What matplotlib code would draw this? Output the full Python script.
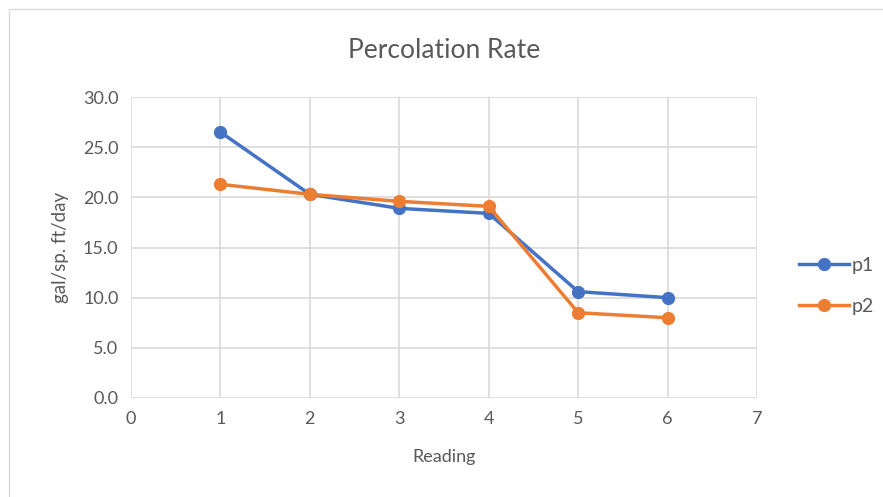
import matplotlib.pyplot as plt
from matplotlib.patches import Rectangle
import numpy as np

plt.rcParams['font.family'] = ['Lato', 'DejaVu Sans']

# Readings and percolation rates
readings = [1, 2, 3, 4, 5, 6]
p1 = [26.5, 20.3, 18.9, 18.4, 10.6, 10.0]
p2 = [21.3, 20.3, 19.6, 19.1, 8.5, 8.0]

text_color = '#595959'
grid_color = '#d9d9d9'

fig = plt.figure(figsize=(8.83, 4.97), dpi=100)
fig.patches.append(Rectangle((9 / 883, -0.1), 1.2, 1 - 9 / 497 + 0.1, transform=fig.transFigure,
                             fill=False, edgecolor='#d9d9d9', linewidth=1))

ax = fig.add_axes([131 / 883, 1 - 398 / 497, (757 - 131) / 883, (398 - 97) / 497])

ax.plot(readings, p1, color='#4472c4', linewidth=2.5, marker='o', markersize=8.5, label='p1')
ax.plot(readings, p2, color='#ed7d31', linewidth=2.5, marker='o', markersize=8.5, label='p2')

ax.set_xlim(0, 7)
ax.set_ylim(0, 30)
ax.set_xticks(np.arange(0, 8, 1))
ax.set_yticks(np.arange(0, 31, 5))
ax.set_yticklabels(['%.1f' % v for v in np.arange(0, 31, 5)])
ax.grid(True, color=grid_color, linewidth=1.2)
ax.set_axisbelow(True)
for s in ax.spines.values():
    s.set_visible(False)
ax.tick_params(length=0, labelsize=13, colors=text_color, pad=9)

ax.set_title("Percolation Rate", fontsize=19, color=text_color, pad=28)
ax.set_xlabel("Reading", fontsize=13, color=text_color, labelpad=16)
ax.set_ylabel("gal/sp. ft/day", fontsize=13.5, color=text_color, labelpad=10)

fig.legend(loc='center left', bbox_to_anchor=(781 / 883, 1 - 286 / 497), frameon=False,
           fontsize=14, labelcolor=text_color, handlelength=2.6, labelspacing=1.25,
           handletextpad=0.15)

fig.savefig("out.png", dpi=100)
